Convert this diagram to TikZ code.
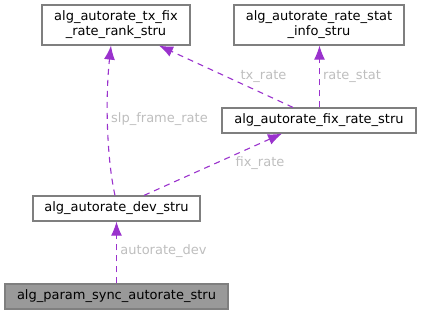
\documentclass[tikz,border=0pt]{standalone}
\usepackage{fontspec}
\setmainfont{DejaVu Sans}
\usetikzlibrary{calc,arrows.meta}
\definecolor{edgec}{HTML}{9A32CD}
\definecolor{labc}{HTML}{BEBEBE}
\definecolor{boxc}{HTML}{7F7F7F}
\definecolor{fillc}{HTML}{999999}
\begin{document}
\begin{tikzpicture}[x=1pt,y=-1pt,
  font=\fontsize{13}{15}\selectfont,
  cls/.style={draw=boxc,line width=1.2pt,fill=white,inner sep=0pt,align=center,text=black},
  rel/.style={draw=edgec,line width=1.1pt,dash pattern=on 6pt off 5pt,-{Latex[length=14pt,width=11pt,fill=edgec]}},
  lab/.style={text=labc,inner sep=0pt}]
\useasboundingbox (0,0) rectangle (421,315);
\node[cls,minimum width=148pt,minimum height=40pt] (txfix) at (116,25) {alg\_autorate\_tx\_fix\\\_rate\_rank\_stru};
\node[cls,minimum width=170pt,minimum height=40pt] (rstat) at (319,25) {alg\_autorate\_rate\_stat\\\_info\_stru};
\node[cls,minimum width=194pt,minimum height=25pt] (fix) at (319,120.5) {alg\_autorate\_fix\_rate\_stru};
\node[cls,minimum width=167pt,minimum height=25pt] (dev) at (116.5,208.5) {alg\_autorate\_dev\_stru};
\node[cls,fill=fillc,minimum width=223pt,minimum height=25pt] (param) at (116.5,296.5) {alg\_param\_sync\_autorate\_stru};
\draw[rel] (param.north) -- (dev.south);
\draw[rel] ($(dev.north)+(-1.5,0)$) .. controls (107,160) and (105,100) .. ($(txfix.south)+(-5,0)$);
\draw[rel] ($(dev.north)+(27.5,0)$) -- ($(fix.south)+(-37,0)$);
\draw[rel] ($(fix.north)+(-26,0)$) -- ($(txfix.south)+(43,0)$);
\draw[rel] ($(fix.north)+(0.5,0)$) -- ($(rstat.south)+(0.5,0)$);
\node[lab] (l1) at (163.5,251) {autorate\_dev};
\node[lab] (l2) at (159.5,119) {slp\_frame\_rate};
\node[lab] (l3) at (260,163.5) {fix\_rate};
\node[lab] (l4) at (263.5,76) {tx\_rate};
\node[lab] (l5) at (352,76) {rate\_stat};
\end{tikzpicture}
\end{document}
